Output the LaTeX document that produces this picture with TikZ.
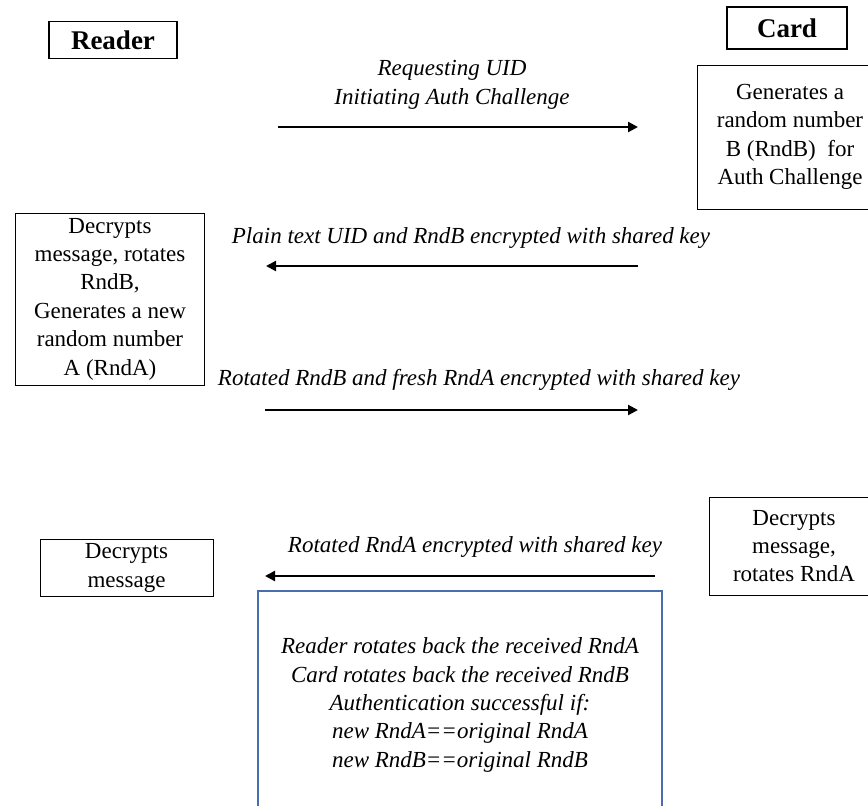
\documentclass[tikz,border=0pt]{standalone}
\usepackage{fontspec}
\setmainfont{Liberation Serif}
\usepackage{xcolor}
\usetikzlibrary{positioning, arrows.meta}
\definecolor{chkblue}{HTML}{4A6DAE}

\begin{document}
\begin{tikzpicture}[
    x=0.5pt, y=-0.5pt,
    party/.style={rectangle, draw, line width=0.6pt, inner sep=0pt,
                  font=\fontsize{13.5}{16}\selectfont\bfseries},
    stepbox/.style={rectangle, draw, line width=0.5pt, inner sep=0pt,
                    align=flush center, font=\fontsize{11.5}{14.2}\selectfont},
    msglabel/.style={inner sep=0pt, align=flush center,
                     font=\fontsize{11.5}{14.2}\selectfont\itshape},
    msg/.style={-{Triangle[length=5pt, width=5pt]}, line width=1.1pt},
]
\clip (0,0) rectangle (868,805);

% ============== parties ==============
\node[party, minimum width=64pt, minimum height=18.5pt] (reader) at (113,40) {Reader};
\node[party, minimum width=60pt, minimum height=21pt] (card) at (787,28) {Card};

% ============== step 1: challenge ==============
\node[msglabel] (l1) at (452,85) {Requesting UID\\Initiating Auth Challenge};
\coordinate (m1s) at (278,127);
\coordinate (m1e) at (638,127);
\draw[msg] (m1s) -- (m1e);
\node[stepbox, text width=93pt, minimum height=72pt] (gen) at (790,137)
    {Generates a\\random number\\B (RndB)~ for\\Auth Challenge};

% ============== step 2: card answers ==============
\node[msglabel] (l2) at (471,238) {Plain text UID and RndB encrypted with shared key};
\coordinate (m2s) at (638,266);
\coordinate (m2e) at (266,266);
\draw[msg] (m2s) -- (m2e);
\node[stepbox, text width=94.5pt, minimum height=86pt] (decA) at (110,299)
    {Decrypts\\message, rotates\\RndB,\\Generates a new\\random number\\A (RndA)};

% ============== step 3: reader answers ==============
\node[msglabel] (l3) at (479,380) {Rotated RndB and fresh RndA encrypted with shared key};
\coordinate (m3s) at (265,410);
\coordinate (m3e) at (638,410);
\draw[msg] (m3s) -- (m3e);

% ============== step 4: card answers ==============
\node[msglabel] (l4) at (475,547) {Rotated RndA encrypted with shared key};
\coordinate (m4s) at (655,576);
\coordinate (m4e) at (265,576);
\draw[msg] (m4s) -- (m4e);
\node[stepbox, text width=86.5pt, minimum height=28.5pt] (decB) at (126.5,568)
    {Decrypts\\message};
\node[stepbox, text width=85pt, minimum height=49pt] (decC) at (794,546)
    {Decrypts\\message,\\rotates RndA};

% ============== check ==============
\node[stepbox, draw=chkblue, line width=0.6pt, text width=202pt, minimum height=114pt,
      font=\fontsize{11.5}{14.2}\selectfont\itshape] (chk) at (460,705)
    {Reader rotates back the received RndA\\Card rotates back the received RndB\\
     Authentication successful if:\\new RndA==original RndA\\new RndB==original RndB};

\end{tikzpicture}
\end{document}
